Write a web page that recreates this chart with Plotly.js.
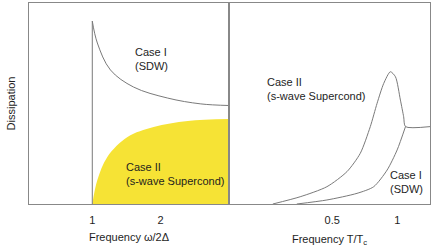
<!DOCTYPE html>
<html>
<head>
<meta charset="utf-8">
<script src="https://cdn.plot.ly/plotly-3.0.1.min.js"></script>
<style>html,body{margin:0;padding:0;background:#fff;}#chart{width:436px;height:247px;}</style>
</head>
<body>
<div id="chart"></div>
<script>
// Left panel: frequency ω/2Δ
const sdwFreq = [1, 1.074, 1.265, 1.603, 2.103, 2.588, 3.0];
const sdwDiss = [0.91, 0.801, 0.667, 0.582, 0.527, 0.498, 0.490];
const thresholdFreq = [1, 1];
const thresholdDiss = [0, 0.91];
const scFreq = [1, 1.074, 1.22, 1.515, 1.897, 2.397, 3.0];
const scDiss = [0, 0.119, 0.234, 0.333, 0.383, 0.413, 0.423];
const leftTicks = [1, 2];
const leftTickText = ["1", "2"];

// Right panel: temperature T/Tc
const scTemp = [0.044, 0.254, 0.459, 0.613, 0.715, 0.792, 0.844, 0.895, 0.946, 0.985, 1.023, 1.048, 1.062, 1.25];
const scTempDiss = [0, 0.036, 0.086, 0.161, 0.252, 0.385, 0.501, 0.600, 0.658, 0.633, 0.517, 0.434, 0.385, 0.385];
const sdwTemp = [0.228, 0.459, 0.690, 0.818, 0.921, 0.998, 1.062];
const sdwTempDiss = [0, 0.020, 0.053, 0.086, 0.169, 0.269, 0.385];
const rightTicks = [0.5, 1];
const rightTickText = ["0.5", "1"];

const lineColor = '#7a7a7a';
const yellow = '#f6e335';
const textColor = '#1e1e1e';
const font = {family: 'Liberation Sans, Arial, sans-serif', size: 11, color: textColor};

const traces = [
  {x: scFreq, y: scDiss, xaxis: 'x', yaxis: 'y', mode: 'lines', line: {width: 0, shape: 'spline', color: yellow},
   fill: 'tozeroy', fillcolor: yellow, hoverinfo: 'skip'},
  {x: thresholdFreq, y: thresholdDiss, xaxis: 'x', yaxis: 'y', mode: 'lines', line: {width: 1, color: lineColor}},
  {x: sdwFreq, y: sdwDiss, xaxis: 'x', yaxis: 'y', mode: 'lines', line: {width: 1, color: lineColor, shape: 'spline'}},
  {x: scTemp, y: scTempDiss, xaxis: 'x2', yaxis: 'y2', mode: 'lines', line: {width: 1, color: lineColor, shape: 'spline', smoothing: 0.7}},
  {x: sdwTemp, y: sdwTempDiss, xaxis: 'x2', yaxis: 'y2', mode: 'lines', line: {width: 1, color: lineColor, shape: 'spline', smoothing: 0.7}}
];

const split = 200 / 401;
const frame = {showline: true, mirror: true, linecolor: '#888', linewidth: 1, showgrid: false, zeroline: false, ticks: ''};

const layout = {
  width: 436, height: 247,
  margin: {l: 29, r: 6, t: 3, b: 43},
  paper_bgcolor: '#fff', plot_bgcolor: '#fff',
  showlegend: false,
  font: font,
  xaxis: Object.assign({}, frame, {domain: [0, split], anchor: 'y', range: [0.074, 3.0],
    tickvals: leftTicks, ticktext: leftTickText, tickfont: font, ticklabelstandoff: 6,
    title: {text: 'Frequency ω/2Δ', font: font, standoff: 8}}),
  yaxis: Object.assign({}, frame, {domain: [0, 1], anchor: 'x', range: [0, 1], showticklabels: false,
    title: {text: 'Dissipation', font: font, standoff: 10}}),
  xaxis2: Object.assign({}, frame, {domain: [split, 1], anchor: 'y2', range: [-0.292, 1.25],
    tickvals: rightTicks, ticktext: rightTickText, tickfont: font, ticklabelstandoff: 6,
    title: {text: 'Frequency T/T<sub>c</sub>', font: font, standoff: 10}}),
  yaxis2: Object.assign({}, frame, {domain: [0, 1], anchor: 'x2', range: [0, 1], showticklabels: false}),
  annotations: [
    {xref: 'x', yref: 'y', x: 1.60, y: 0.721, text: 'Case I<br>(SDW)', showarrow: false, xanchor: 'left', align: 'left', font: font},
    {xref: 'x', yref: 'y', x: 1.47, y: 0.147, text: 'Case II<br>(s-wave Supercond)', showarrow: false, xanchor: 'left', align: 'left', font: font},
    {xref: 'x2', yref: 'y2', x: -0.015, y: 0.570, text: 'Case II<br>(s-wave Supercond)', showarrow: false, xanchor: 'left', align: 'left', font: font},
    {xref: 'x2', yref: 'y2', x: 0.93, y: 0.107, text: 'Case I<br>(SDW)', showarrow: false, xanchor: 'left', align: 'left', font: font}
  ]
};

Plotly.newPlot('chart', traces, layout, {displayModeBar: false, staticPlot: true});
</script>
</body>
</html>
